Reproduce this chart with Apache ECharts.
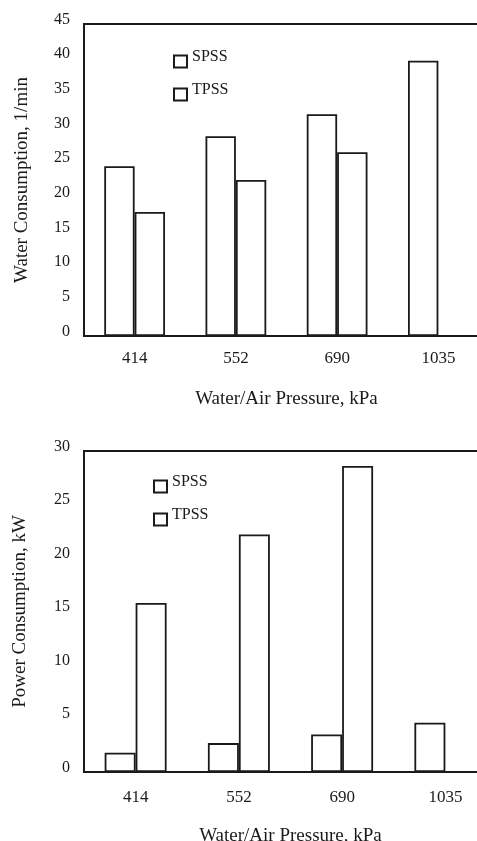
<!DOCTYPE html>
<html>
<head>
<meta charset="utf-8">
<script src="https://cdn.jsdelivr.net/npm/echarts@6/dist/echarts.min.js"></script>
<style>
html,body{margin:0;padding:0;background:#fff;overflow:hidden;}
#c{width:477px;height:841px;}
</style>
</head>
<body>
<div id="c"></div>
<script>
var categories = ['414', '552', '690', '1035'];
var seriesNames = ['SPSS', 'TPSS'];
var waterSPSS = [24.5, 28.8, 32.0, 39.7];
var waterTPSS = [17.9, 22.5, 26.5, null];
var powerSPSS = [1.8, 2.7, 3.5, 4.6];
var powerTPSS = [15.8, 22.2, 28.6, null];
var waterTicks = {min: 0, max: 45, interval: 5};
var powerTicks = {min: 0, max: 30, interval: 5};
var waterYName = 'Water Consumption, 1/min';
var powerYName = 'Power Consumption, kW';
var xName = 'Water/Air Pressure, kPa';

var FONT = 'Liberation Serif';
var INK = '#1a1a1a';

var chart = echarts.init(document.getElementById('c'), null, {renderer: 'canvas'});

function xAxisFor(idx, margin, gap) {
  return {
    type: 'category', gridIndex: idx, data: categories,
    axisLine: {show: true, lineStyle: {color: INK, width: 2}},
    axisTick: {show: false},
    axisLabel: {color: INK, fontFamily: FONT, fontSize: 17, margin: margin},
    name: xName, nameLocation: 'middle', nameGap: gap,
    nameTextStyle: {color: INK, fontFamily: FONT, fontSize: 19}
  };
}
function yAxisFor(idx, t, name, gap) {
  return {
    type: 'value', gridIndex: idx, min: t.min, max: t.max, interval: t.interval,
    axisLine: {show: true, lineStyle: {color: INK, width: 2}},
    axisTick: {show: false},
    splitLine: {show: false},
    axisLabel: {color: INK, fontFamily: FONT, fontSize: 16, margin: 14, verticalAlign: 'bottom', lineHeight: 9},
    name: name, nameLocation: 'middle', nameGap: gap, nameRotate: 90,
    nameTextStyle: {color: INK, fontFamily: FONT, fontSize: 19}
  };
}
var barStyle = {color: '#ffffff', borderColor: INK, borderWidth: 1.8};
function bar(name, data, idx) {
  return {
    type: 'bar', name: name, data: data, xAxisIndex: idx, yAxisIndex: idx,
    barGap: '0%', barCategoryGap: '40%', itemStyle: barStyle, silent: true
  };
}
var legendText = {color: INK, fontFamily: FONT, fontSize: 16, lineHeight: 9};
function legendFor(left, top) {
  return {
    data: seriesNames, orient: 'vertical', left: left, top: top, padding: 0,
    itemWidth: 13, itemHeight: 12, itemGap: 8, icon: 'rect',
    textStyle: legendText, selectedMode: false,
    formatter: function (n) { return n + '\n'; }
  };
}

chart.setOption({
  animation: false,
  backgroundColor: '#ffffff',
  grid: [
    {left: 84, top: 24, width: 405, height: 312, show: true, borderColor: INK, borderWidth: 2,
     backgroundColor: 'transparent', outerBoundsMode: 'none', containLabel: false},
    {left: 84, top: 451, width: 413, height: 321, show: true, borderColor: INK, borderWidth: 2,
     backgroundColor: 'transparent', outerBoundsMode: 'none', containLabel: false}
  ],
  legend: [legendFor(173, 49), legendFor(153, 474)],
  xAxis: [xAxisFor(0, 14, 54), xAxisFor(1, 17, 55)],
  yAxis: [yAxisFor(0, waterTicks, waterYName, 52), yAxisFor(1, powerTicks, powerYName, 54)],
  series: [
    bar('SPSS', waterSPSS, 0),
    bar('TPSS', waterTPSS, 0),
    bar('SPSS', powerSPSS, 1),
    bar('TPSS', powerTPSS, 1)
  ]
});
</script>
</body>
</html>
